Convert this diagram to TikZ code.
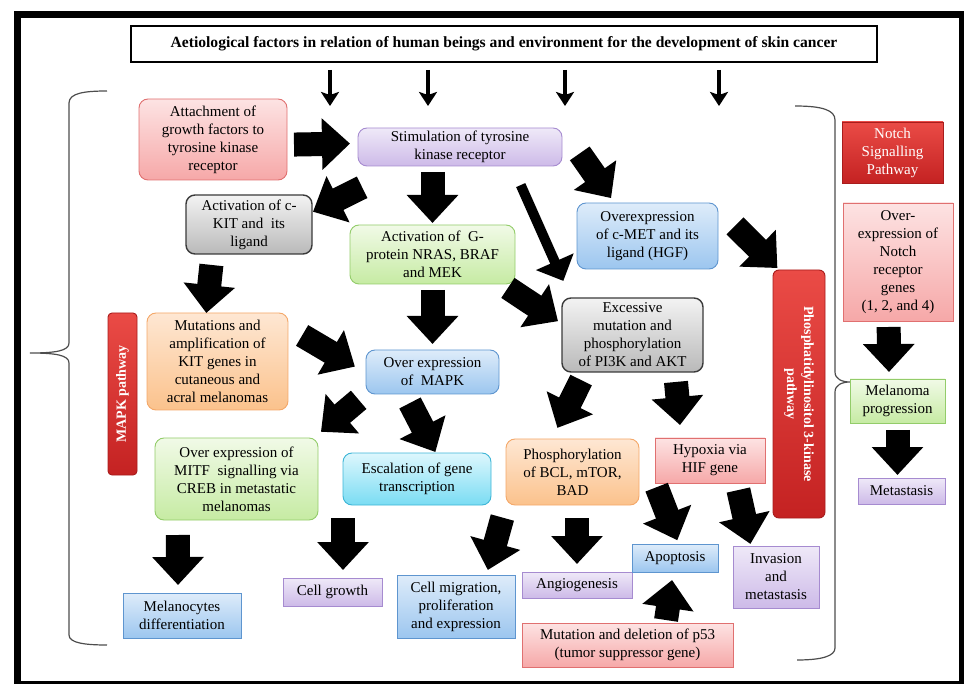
\documentclass[tikz,border=0pt]{standalone}
\usepackage{fontspec}
\setmainfont{Liberation Serif}
\usetikzlibrary{arrows.meta}

\definecolor{pinkD}{HTML}{E07070}
\definecolor{pinkT}{HTML}{FDE3E3}
\definecolor{pinkB}{HTML}{F6A8A8}
\definecolor{purpD}{HTML}{A68BD0}
\definecolor{purpT}{HTML}{EFE9F8}
\definecolor{purpB}{HTML}{CDBAE8}
\definecolor{grayD}{HTML}{3A3A3A}
\definecolor{grayT}{HTML}{F3F3F3}
\definecolor{grayB}{HTML}{B9B9B9}
\definecolor{grnD}{HTML}{93CC6A}
\definecolor{grnT}{HTML}{F1FAE7}
\definecolor{grnB}{HTML}{C6EBA3}
\definecolor{bluD}{HTML}{5E95CF}
\definecolor{bluT}{HTML}{DEECFA}
\definecolor{bluB}{HTML}{9CC6EF}
\definecolor{cyaD}{HTML}{3DB5D6}
\definecolor{cyaT}{HTML}{DDF7FD}
\definecolor{cyaB}{HTML}{7ADCF3}
\definecolor{orgD}{HTML}{F4A869}
\definecolor{orgT}{HTML}{FEE7D3}
\definecolor{orgB}{HTML}{FBC28C}
\definecolor{redD}{HTML}{A81C1C}
\definecolor{redT}{HTML}{EA4B46}
\definecolor{redB}{HTML}{C42222}
\definecolor{braceC}{HTML}{4D4D4D}

\tikzset{
  box/.style={draw, align=center, inner sep=2pt, outer sep=0pt, line width=0.9pt,
    font=\fontsize{15}{18}\selectfont},
  rbox/.style={box, rounded corners=9pt},
  pinkfill/.style={draw=pinkD, top color=pinkT, bottom color=pinkB},
  purpfill/.style={draw=purpD, top color=purpT, bottom color=purpB},
  grayfill/.style={draw=grayD, top color=grayT, bottom color=grayB, line width=1.4pt},
  grnfill/.style={draw=grnD, top color=grnT, bottom color=grnB},
  blufill/.style={draw=bluD, top color=bluT, bottom color=bluB},
  cyafill/.style={draw=cyaD, top color=cyaT, bottom color=cyaB},
  orgfill/.style={draw=orgD, top color=orgT, bottom color=orgB},
  redfill/.style={draw=redD, top color=redT, bottom color=redB, text=white},
  fat/.style={line width=24pt, -{Triangle[length=28pt,width=50pt]}},
  slim/.style={line width=10pt, -{Triangle[length=21pt,width=40pt]}},
  downarr/.style={line width=3.4pt, -{Stealth[length=14pt,width=18pt,inset=3pt]}},
  brace/.style={draw=braceC, line width=1.2pt}
}

\begin{document}
\begin{tikzpicture}[x=1pt,y=1pt,yscale=-1,xscale=1]
\useasboundingbox (0,0) rectangle (964,684);

%Shape: Frame
\draw [line width=7] (17.5,14.5) rectangle (962.5,684.5);

% Text Node: title
\node [box, line width=2, minimum width=746, minimum height=36] (title) at (504,44)
  {\fontsize{15.6}{18}\selectfont\bfseries Aetiological factors in relation of human beings and environment for the development of skin cancer};
%Straight Lines
\foreach \xx in {330,428,565,719}
  \draw [downarr] (title.south -| \xx,0) ++(0,8) -- ++(0,36);

%Shape: Braces
\draw [brace] (107,91) .. controls (85,91) and (69,93) .. (69,103) -- (69,343) .. controls (69,351) and (55,353) .. (30,353) .. controls (55,353) and (69,355) .. (69,363) -- (69,635) .. controls (69,643) and (85,645) .. (107,645);
\draw [brace] (795,106) .. controls (822,106) and (835,110) .. (835,120) -- (835,372) .. controls (835,379) and (842,382) .. (850,382) .. controls (842,382) and (835,385) .. (835,392) -- (835,648) .. controls (835,656) and (822,660) .. (797,660);

%Shape: Rounded Rects
\node [rbox, pinkfill, minimum width=148, minimum height=81] (attach) at (213,139.5)
  {Attachment of\\growth factors to\\tyrosine kinase\\receptor};
\node [rbox, purpfill, minimum width=204, minimum height=38] (stim) at (460,147)
  {Stimulation of tyrosine\\kinase receptor};
\node [rbox, grayfill, minimum width=126, minimum height=59] (ckit) at (249,224.5)
  {Activation of c-\\KIT and\ \ its\\ligand};
\node [rbox, grnfill, minimum width=165, minimum height=59] (gprot) at (432.5,254.5)
  {Activation of\ \ G-\\protein NRAS, BRAF\\and MEK};
\node [rbox, blufill, minimum width=141, minimum height=66] (cmet) at (647.5,236)
  {Overexpression\\of c-MET and its\\ligand (HGF)};
\node [rbox, grayfill, minimum width=141, minimum height=74] (pi3k) at (632.5,335)
  {Excessive\\mutation and\\phosphorylation\\of PI3K and AKT};
\node [rbox, orgfill, minimum width=141, minimum height=97] (kitmut) at (217.5,361.5)
  {Mutations and\\amplification of\\KIT genes in\\cutaneous and\\acral melanomas};
\node [rbox, blufill, minimum width=133, minimum height=44] (mapk) at (432.5,372)
  {Over expression\\of\ \ MAPK};
\node [rbox, grnfill, minimum width=163, minimum height=82] (mitf) at (236.5,479)
  {Over expression of\\MITF\ \ signalling via\\CREB in metastatic\\melanomas};
\node [rbox, cyafill, minimum width=148, minimum height=52] (escal) at (417,479)
  {Escalation of gene\\transcription};
\node [rbox, orgfill, minimum width=133, minimum height=66] (phos) at (572.5,472)
  {Phosphorylation\\of BCL, mTOR,\\BAD};

%Shape: Pathway bars
\node [rbox, redfill, rounded corners=6pt, minimum width=248, minimum height=52, rotate=-90,
  font=\fontsize{14}{17}\selectfont\bfseries] (pi3kpath) at (799,394)
  {Phosphatidylinositol 3-kinase\\pathway};
\node [rbox, redfill, rounded corners=4pt, minimum width=162, minimum height=29, rotate=90,
  font=\fontsize{14}{17}\selectfont\bfseries] (mapkpath) at (122.5,394) {MAPK pathway};
\node [box, redfill, minimum width=101, minimum height=61] (notchpath) at (892.5,152.5)
  {Notch\\Signalling\\Pathway};

%Shape: Rectangles
\node [box, pinkfill, minimum width=110, minimum height=45] (hypox) at (710,460.5)
  {Hypoxia via\\HIF gene};
\node [box, pinkfill, minimum width=110, minimum height=118] (notchgenes) at (898,262)
  {Over-\\expression of\\Notch\\receptor\\genes\\(1, 2, and 4)};
\node [box, grnfill, minimum width=95, minimum height=44] (melprog) at (897.5,401)
  {Melanoma\\progression};
\node [box, purpfill, minimum width=87, minimum height=26] (metas) at (901.5,491) {Metastasis};
\node [box, blufill, minimum width=118, minimum height=45] (melano) at (182,615.5)
  {Melanocytes\\differentiation};
\node [box, purpfill, minimum width=99, minimum height=28] (cellgr) at (332.5,592) {Cell growth};
\node [box, blufill, minimum width=118, minimum height=63] (cellmig) at (456,606.5)
  {Cell migration,\\proliferation\\and expression};
\node [box, purpfill, minimum width=110, minimum height=26] (angio) at (577,585) {Angiogenesis};
\node [box, blufill, minimum width=86, minimum height=28] (apop) at (675,558) {Apoptosis};
\node [box, purpfill, minimum width=86, minimum height=62] (invas) at (776,577)
  {Invasion\\and\\metastasis};
\node [box, pinkfill, minimum width=211, minimum height=44] (p53) at (627.5,645)
  {Mutation and deletion of p53\\(tumor suppressor gene)};

%Block arrows
\draw [fat, shorten <=7pt, shorten >=8pt] (attach.-4.3) -- (stim.178.9);
\draw [fat, shorten <=47.7pt, shorten >=1.1pt] (stim.199.1) -- (ckit.11.7);
\draw [fat, shorten <=6pt, shorten >=2pt] (stim.south -| gprot.north) -- (gprot.north);
\draw [slim, shorten <=20.9pt, shorten >=18.7pt] (stim.-20.3) -- (pi3k.149.1);
\draw [fat, shorten <=31pt, shorten >=6pt] (stim.north east) -- (cmet.135.9);
\draw [fat, shorten <=24pt, shorten >=2.8pt] (cmet.21) -- (pi3kpath.189.2);
\draw [fat, shorten <=11pt] (ckit.219.7) -- (kitmut.103.9);
\draw [fat, shorten <=6pt, shorten >=6pt] (gprot.south) -- (mapk.north);
\draw [fat, shorten <=7.1pt, shorten >=4.8pt] (gprot.-23) -- (pi3k.171.7);
\draw [fat, shorten <=16.4pt, shorten >=12.9pt] (kitmut.26.4) -- (mapk.181.5);
\draw [fat, shorten <=9.6pt, shorten >=9.6pt] (mapk.198.7) -- (mitf.28.4);
\draw [fat, shorten <=10.1pt, shorten >=1.1pt] (mapk.219.1) -- (escal.54.6);
\draw [fat, shorten <=9pt, shorten >=12.4pt] (pi3k.218.6) -- (phos.122.7);
\draw [fat, shorten <=10pt, shorten >=13pt] (pi3k.-41.7) -- (hypox.142.9);
\draw [fat, shorten <=6pt, shorten >=7pt] (notchgenes.261.3) -- (melprog.111.1);
\draw [fat, shorten <=7pt, shorten >=3pt] (melprog.south) -- (melprog.south |- metas.north);
\draw [fat, shorten <=15pt, shorten >=8pt] (mitf.215) -- (melano.100.1);
\draw [fat, shorten <=13pt, shorten >=8pt] (escal.south west) -- (escal.south west |- cellgr.north);
\draw [fat, shorten <=13.6pt, shorten >=5.2pt] (phos.206.7) -- (cellmig.46.9);
\draw [fat, shorten <=13pt, shorten >=8pt] (phos.south -| angio.north) -- (angio.north);
\draw [fat, shorten <=4.5pt, shorten >=4pt] (hypox.south west) -- (apop.75.2);
\draw [fat, shorten <=7.2pt, shorten >=2.1pt] (hypox.-40.4) -- (invas.129.4);
\draw [fat, shorten <=3pt, shorten >=8.1pt] (p53.30.7) -- (apop.263.5);

\end{tikzpicture}
\end{document}
